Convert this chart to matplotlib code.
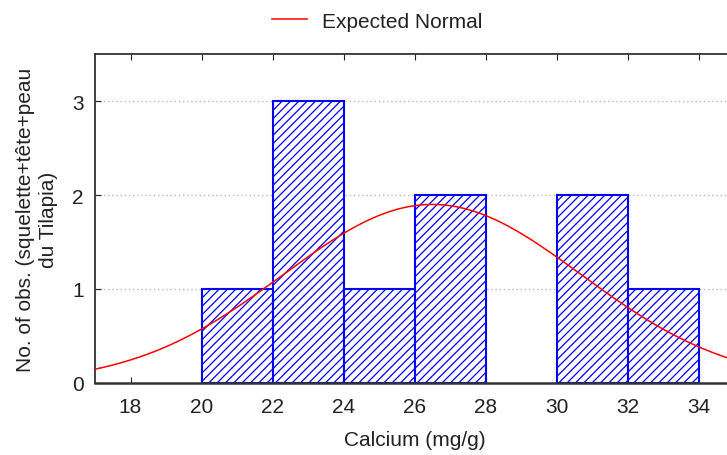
import numpy as np
import matplotlib
matplotlib.use("Agg")
import matplotlib.pyplot as plt

plt.rcParams['font.family'] = ['Liberation Sans', 'DejaVu Sans']
plt.rcParams['hatch.color'] = '#4545ff'
plt.rcParams['hatch.linewidth'] = 0.9

# histogramme Calcium
bin_left = [20, 22, 24, 26, 28, 30, 32]
counts = [1, 3, 1, 2, 0, 2, 1]
bin_w = 2
n_obs = 10
# normale attendue
mu = 26.5
sd = 4.2

x_ticks = [18, 20, 22, 24, 26, 28, 30, 32, 34]
y_ticks = [0, 1, 2, 3]

fs = 15
fig = plt.figure(figsize=(7.27, 4.56), dpi=100)
# le cadre déborde un peu à droite de l'image
ax = fig.add_axes([95 / 727, 1 - 384 / 456, (734 - 95) / 727, (384 - 55) / 456])

for b, c in zip(bin_left, counts):
    if c > 0:
        ax.bar(b, c, width=bin_w, align='edge', facecolor='white',
               edgecolor='#0000ff', linewidth=1.5, hatch='////', zorder=2)

xx = np.linspace(17, 35, 300)
yy = n_obs * bin_w / (sd * np.sqrt(2 * np.pi)) * np.exp(-0.5 * ((xx - mu) / sd) ** 2)
line, = ax.plot(xx, yy, color='#ff0000', linewidth=1.1, zorder=3, label='Expected Normal')

ax.set_xlim(17, 35)
ax.set_ylim(0, 3.5)
ax.set_xticks(x_ticks)
ax.set_yticks(y_ticks)
ax.tick_params(direction='in', length=4, labelsize=fs, colors='#222222', top=True, pad=8)
ax.tick_params(axis='x', pad=10)
ax.grid(axis='y', linestyle=(0, (1, 2)), color='#bbbbbb', linewidth=1)
ax.set_axisbelow(True)
for g in ax.get_ygridlines()[:1]:
    g.set_visible(False)

ax.spines['right'].set_visible(False)
for s in ['left', 'top', 'bottom']:
    ax.spines[s].set_color('#333333')
    ax.spines[s].set_linewidth(1.3)
ax.spines['bottom'].set_linewidth(1.8)

ax.set_xlabel('Calcium (mg/g)', fontsize=fs, color='#222222', labelpad=10)
ax.set_ylabel('No. of obs. (squelette+tête+peau\ndu Tilapia)', fontsize=fs,
              color='#222222', labelpad=10, linespacing=1.3)

fig.legend(handles=[line], loc='center', bbox_to_anchor=(377 / 727, 1 - 22 / 456),
           frameon=False, fontsize=fs, handlelength=1.7, handletextpad=0.7,
           labelcolor='#222222')

fig.savefig('out.png', dpi=100)
